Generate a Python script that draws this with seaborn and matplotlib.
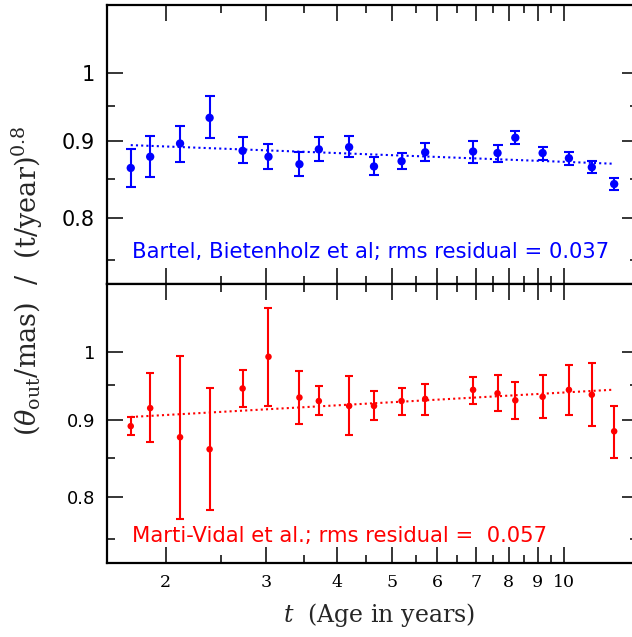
import numpy as np
import pandas as pd
import seaborn as sns
import matplotlib
matplotlib.use("Agg")
import matplotlib.pyplot as plt
from matplotlib.ticker import FixedLocator, FixedFormatter, NullFormatter

# ---------------- data ----------------
age_years = [1.736, 1.878, 2.119, 2.388, 2.729, 3.030, 3.434, 3.714, 4.198, 4.642,
             5.19, 5.71, 6.93, 7.65, 8.22, 9.18, 10.21, 11.20, 12.26]

bartel_val = [0.864, 0.879, 0.897, 0.933, 0.887, 0.879, 0.869, 0.889, 0.892, 0.866,
              0.873, 0.885, 0.886, 0.884, 0.905, 0.884, 0.877, 0.865, 0.843]
bartel_hi = [0.890, 0.907, 0.922, 0.964, 0.906, 0.896, 0.886, 0.906, 0.907, 0.878,
             0.884, 0.897, 0.901, 0.895, 0.915, 0.892, 0.885, 0.873, 0.851]
bartel_lo = [0.839, 0.852, 0.872, 0.905, 0.870, 0.863, 0.853, 0.873, 0.878, 0.855,
             0.862, 0.873, 0.871, 0.872, 0.896, 0.874, 0.868, 0.857, 0.835]

marti_val = [0.892, 0.917, 0.877, 0.861, 0.945, 0.992, 0.932, 0.927, 0.920, 0.920,
             0.927, 0.930, 0.943, 0.938, 0.928, 0.933, 0.943, 0.936, 0.885]
marti_hi = [0.905, 0.967, 0.993, 0.945, 0.972, 1.069, 0.970, 0.948, 0.963, 0.941,
            0.946, 0.952, 0.962, 0.964, 0.954, 0.964, 0.980, 0.982, 0.920]
marti_lo = [0.880, 0.870, 0.774, 0.785, 0.918, 0.920, 0.895, 0.907, 0.880, 0.900,
            0.908, 0.907, 0.923, 0.913, 0.902, 0.903, 0.908, 0.892, 0.850]

# power-law fits  y = amp * t**index
bartel_fit = {"amp": 0.902, "index": -0.0146}
marti_fit = {"amp": 0.894, "index": 0.0214}

bartel_label = "Bartel, Bietenholz et al; rms residual = 0.037"
marti_label = "Marti-Vidal et al.; rms residual =  0.057"

x_major = [2, 3, 4, 5, 6, 7, 8, 9, 10]
x_minor = [2.5, 3.5, 4.5, 5.5, 6.5, 7.5, 8.5, 9.5]
y_major = [0.8, 0.9, 1.0]
y_major_labels = ["0.8", "0.9", "1"]
y_minor = [0.75, 0.85, 0.95]

# ---------------- style ----------------
sns.set_theme(style="ticks")
plt.rcParams["font.family"] = ["DejaVu Sans"]
plt.rcParams["mathtext.fontset"] = "dejavuserif"

W, H = 632, 637
fig = plt.figure(figsize=(W / 100, H / 100), dpi=100)
left = 107.3 / W
width = (638 - 107.3) / W
ax_top = fig.add_axes([left, (H - 284) / H, width, 279 / H])
ax_bot = fig.add_axes([left, (H - 563) / H, width, 279 / H])

panels = [
    (ax_top, bartel_val, bartel_lo, bartel_hi, bartel_fit, bartel_label, "#0000ff",
     36, 3.3, 15, 9, 0.115),
    (ax_bot, marti_val, marti_lo, marti_hi, marti_fit, marti_label, "#ff0000",
     22, 2.6, 13, 8.5, 0.0985),
]

for ax, val, lo, hi, fit, label, col, msize, cap, ylab_fs, ypad, ty in panels:
    df = pd.DataFrame({"t": age_years, "v": val, "lo": lo, "hi": hi})
    yerr = np.vstack([df["v"] - df["lo"], df["hi"] - df["v"]])
    ax.errorbar(df["t"], df["v"], yerr=yerr, fmt="none", ecolor=col,
                elinewidth=1.5, capsize=cap, capthick=1.5, zorder=2)
    sns.scatterplot(data=df, x="t", y="v", ax=ax, color=col, s=msize,
                    edgecolor="none", linewidth=0, zorder=3, legend=False)
    tt = np.array([age_years[0], age_years[-1]])
    fit_df = pd.DataFrame({"t": tt, "v": fit["amp"] * tt ** fit["index"]})
    sns.lineplot(data=fit_df, x="t", y="v", ax=ax, color=col, linewidth=1.5,
                 linestyle=(0, (1, 1.5)), zorder=1)

    ax.set_xscale("log")
    ax.set_yscale("log")
    ax.set_xlim(1.579, 13.5)
    ax.set_ylim(0.7233, 1.109)

    ax.xaxis.set_major_locator(FixedLocator(x_major))
    ax.xaxis.set_minor_locator(FixedLocator(x_minor))
    ax.xaxis.set_minor_formatter(NullFormatter())
    ax.yaxis.set_major_locator(FixedLocator(y_major))
    ax.yaxis.set_major_formatter(FixedFormatter(y_major_labels))
    ax.yaxis.set_minor_locator(FixedLocator(y_minor))
    ax.yaxis.set_minor_formatter(NullFormatter())

    ax.tick_params(which="both", direction="in", top=True, right=True,
                   color="black", width=1.1)
    ax.tick_params(which="major", length=11.5)
    ax.tick_params(which="minor", length=5.8)
    ax.tick_params(axis="y", which="major", labelsize=ylab_fs, pad=ypad,
                   labelcolor="black")
    for s in ax.spines.values():
        s.set_linewidth(1.6)
        s.set_color("black")
    ax.set_xlabel("")
    ax.set_ylabel("")
    ax.text(0.0465, ty, label, transform=ax.transAxes, color=col,
            fontsize=15.2, ha="left", va="center", family="DejaVu Sans")

ax_top.xaxis.set_major_formatter(NullFormatter())
ax_bot.xaxis.set_major_formatter(FixedFormatter([str(v) for v in x_major]))
for lab in ax_bot.get_xticklabels():
    lab.set_family("DejaVu Serif")
    lab.set_fontsize(12.5)
ax_bot.tick_params(axis="x", which="major", pad=8, labelcolor="black")

fig.text(379 / W, 1 - 615 / H, r"$t$  (Age in years)", family="DejaVu Serif",
         fontsize=17, ha="center", va="center")
fig.text(27 / W, 1 - 281 / H,
         r"$(\theta_{\rm out}/{\rm mas})\ \ /\ \ ({\rm t}/{\rm year})^{0.8}$",
         fontsize=19.5, rotation=90, ha="center", va="center")

fig.savefig("out.png", dpi=100, facecolor="white")
